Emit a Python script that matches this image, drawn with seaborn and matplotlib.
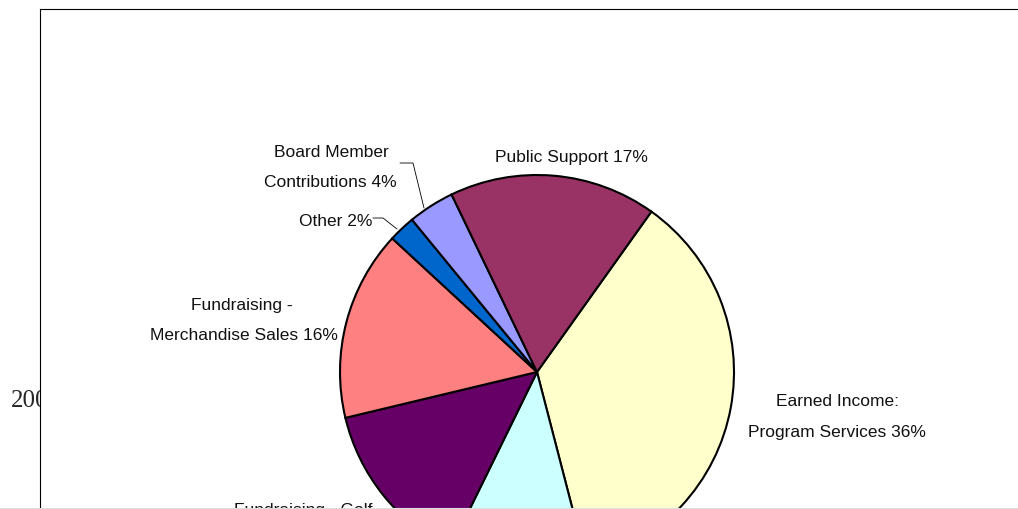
import matplotlib.pyplot as plt
import seaborn as sns

sns.set_style("white")
plt.rcParams["font.family"] = ["Liberation Sans", "DejaVu Sans"]

categories = [
    "Earned Income: Program Services",
    "Fundraising - Other Events",
    "Fundraising - Golf",
    "Fundraising - Merchandise Sales",
    "Other",
    "Board Member Contributions",
    "Public Support",
]
shares = [36.1, 11.3, 14.0, 15.6, 2.2, 3.8, 17.0]
colors = ["#FFFFCC", "#CCFFFF", "#660066", "#FF8080", "#0066CC", "#9999FF", "#993366"]


def py(y):
    # pixel row -> data y (1 data unit == 1 pixel)
    return 510 - y


fig = plt.figure(figsize=(10.18, 5.1), dpi=100)
fig.text(11 / 1018, 1 - 407 / 510, "2008", family="Liberation Serif",
         fontsize=18, va="baseline", ha="left", zorder=-1)

ax = fig.add_axes([40 / 1018, -90 / 510, 1060 / 1018, 590 / 510])
ax.set_facecolor("white")

ax.pie(
    shares,
    colors=colors,
    startangle=54.5,
    counterclock=False,
    center=(537, py(373)),
    radius=197,
    wedgeprops=dict(edgecolor="black", linewidth=1.5),
    frame=True,
)
ax.set_aspect("auto")
ax.set_xlim(40, 1100)
ax.set_ylim(-90, 500)
ax.set_xticks([])
ax.set_yticks([])
for side, sp in ax.spines.items():
    sp.set_visible(True)
    sp.set_color("black")
    sp.set_linewidth(0.8)

labels = [
    ("Board Member", 331, 157),
    ("Contributions 4%", 330, 187),
    ("Other 2%", 336, 226),
    ("Fundraising -", 242, 310),
    ("Merchandise Sales 16%", 244, 340),
    ("Public Support 17%", 571, 162),
    ("Earned Income:", 837, 406),
    ("Program Services 36%", 837, 437),
    ("Fundraising - Golf", 303, 515),
]
for txt, x, y in labels:
    ax.text(x, py(y), txt, ha="center", va="baseline", fontsize=12.5, color="#111111")

# leader lines for small slices
ax.plot([400, 413, 424], [py(164), py(164), py(209)], color="black", lw=0.6)
ax.plot([373, 383, 397], [py(219), py(219), py(230)], color="black", lw=0.6)

fig.add_artist(plt.Line2D([0, 1], [1 - 509 / 510] * 2, color="#dddddd", lw=0.8))

fig.savefig("out.png", dpi=100)
